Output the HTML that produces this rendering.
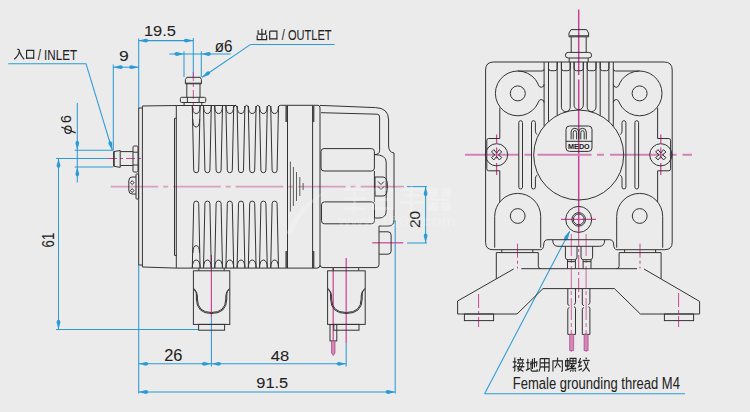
<!DOCTYPE html>
<html><head><meta charset="utf-8"><style>html,body{margin:0;padding:0;background:#ebebeb;width:750px;height:412px;overflow:hidden}
svg{display:block}
.d{fill:none;stroke:#333;stroke-width:1}
.f{fill:#505050;stroke:none}
.dt{fill:none;stroke:#3a3a3a;stroke-width:0.8}
.b{fill:none;stroke:#2a9bd6;stroke-width:1.05}
.ba{fill:#2a9bd6;stroke:none}
.m{fill:none;stroke:#cc4696;stroke-width:1.25}
.mc{fill:none;stroke:#d99fbe;stroke-width:1.9;stroke-dasharray:47.5 5 5 5}
.mr{fill:none;stroke:#d283b8;stroke-width:1.9;stroke-dasharray:54 5.5 7 6}
.mc2{fill:none;stroke:#cc3f90;stroke-width:0.95;stroke-dasharray:9 3 3 3}
.mv{fill:none;stroke:#c8409a;stroke-width:1.5;stroke-dasharray:65.4 4.6 300}
.ms{fill:none;stroke:#cc4696;stroke-width:1.25;stroke-dasharray:8.5 4.5 11 4.5 12}
.mw{fill:none;stroke:#cc3f90;stroke-width:0.8;stroke-dasharray:22 3 4 3}
.mcd{fill:none;stroke:#cc3f90;stroke-width:0.95;stroke-dasharray:14 3 3 3}
.wire{fill:#d884b8;stroke:#9a4c80;stroke-width:0.7}
.t{fill:#222;stroke:#222;stroke-width:0.05;font-family:"Liberation Sans",sans-serif}
.tp{fill:none;stroke:#262626;stroke-width:1.25}
.k{fill:none;stroke:#262626;stroke-linecap:butt;stroke-linejoin:miter}
</style></head>
<body><svg width="750" height="412" viewBox="0 0 750 412"><rect width="750" height="412" fill="#ebebeb"/><line class="b" x1="8.30" y1="63.70" x2="86.00" y2="63.70"/><line class="b" x1="86.00" y1="63.70" x2="112.20" y2="150.00"/><path class="ba" d="M112.40,150.30 L112.12,142.86 Q111.24,140.62 109.60,141.12 Q107.96,141.62 108.48,143.97 Z"/><line class="b" x1="113.30" y1="64.60" x2="113.30" y2="150.30"/><line class="b" x1="138.70" y1="38.60" x2="138.70" y2="108.00"/><line class="b" x1="113.30" y1="67.20" x2="138.70" y2="67.20"/><path class="ba" d="M113.30,67.20 L120.50,69.10 Q122.90,68.91 122.90,67.20 Q122.90,65.49 120.50,65.30 Z"/><path class="ba" d="M138.70,67.20 L131.50,65.30 Q129.10,65.49 129.10,67.20 Q129.10,68.91 131.50,69.10 Z"/><line class="b" x1="138.70" y1="40.60" x2="193.30" y2="40.60"/><path class="ba" d="M138.70,40.60 L145.90,42.50 Q148.30,42.31 148.30,40.60 Q148.30,38.89 145.90,38.70 Z"/><path class="ba" d="M193.30,40.60 L186.10,38.70 Q183.70,38.89 183.70,40.60 Q183.70,42.31 186.10,42.50 Z"/><line class="b" x1="193.30" y1="38.00" x2="193.30" y2="77.00"/><line class="b" x1="169.30" y1="54.00" x2="230.70" y2="54.00"/><path class="ba" d="M184.00,54.00 L176.80,52.10 Q174.40,52.29 174.40,54.00 Q174.40,55.71 176.80,55.90 Z"/><path class="ba" d="M201.30,54.00 L208.50,55.90 Q210.90,55.71 210.90,54.00 Q210.90,52.29 208.50,52.10 Z"/><line class="b" x1="184.00" y1="51.30" x2="184.00" y2="77.00"/><line class="b" x1="201.30" y1="51.30" x2="201.30" y2="77.00"/><line class="b" x1="250.70" y1="44.40" x2="334.70" y2="44.40"/><line class="b" x1="250.70" y1="44.40" x2="202.30" y2="77.20"/><path class="ba" d="M201.80,77.50 L208.83,75.04 Q210.71,73.53 209.75,72.12 Q208.79,70.70 206.70,71.89 Z"/><line class="b" x1="77.30" y1="103.00" x2="77.30" y2="182.60"/><path class="ba" d="M77.30,150.30 L79.20,143.10 Q79.01,140.70 77.30,140.70 Q75.59,140.70 75.40,143.10 Z"/><path class="ba" d="M77.30,166.90 L75.40,174.10 Q75.59,176.50 77.30,176.50 Q79.01,176.50 79.20,174.10 Z"/><line class="b" x1="74.60" y1="150.30" x2="113.30" y2="150.30"/><line class="b" x1="74.60" y1="166.90" x2="113.30" y2="166.90"/><line class="b" x1="58.50" y1="158.40" x2="58.50" y2="329.40"/><path class="ba" d="M58.50,158.40 L56.60,165.60 Q56.79,168.00 58.50,168.00 Q60.21,168.00 60.40,165.60 Z"/><path class="ba" d="M58.50,329.40 L60.40,322.20 Q60.21,319.80 58.50,319.80 Q56.79,319.80 56.60,322.20 Z"/><line class="b" x1="56.00" y1="158.40" x2="113.30" y2="158.40"/><line class="b" x1="56.00" y1="329.40" x2="198.00" y2="329.40"/><line class="b" x1="138.70" y1="265.00" x2="138.70" y2="393.60"/><line class="b" x1="211.40" y1="317.50" x2="211.40" y2="366.50"/><line class="b" x1="346.20" y1="343.00" x2="346.20" y2="366.50"/><line class="b" x1="138.70" y1="363.80" x2="346.20" y2="363.80"/><path class="ba" d="M138.70,363.80 L145.90,365.70 Q148.30,365.51 148.30,363.80 Q148.30,362.09 145.90,361.90 Z"/><path class="ba" d="M211.40,363.80 L204.20,361.90 Q201.80,362.09 201.80,363.80 Q201.80,365.51 204.20,365.70 Z"/><path class="ba" d="M211.40,363.80 L218.60,365.70 Q221.00,365.51 221.00,363.80 Q221.00,362.09 218.60,361.90 Z"/><path class="ba" d="M346.20,363.80 L339.00,361.90 Q336.60,362.09 336.60,363.80 Q336.60,365.51 339.00,365.70 Z"/><line class="b" x1="138.70" y1="392.00" x2="395.20" y2="392.00"/><path class="ba" d="M138.70,392.00 L145.90,393.90 Q148.30,393.71 148.30,392.00 Q148.30,390.29 145.90,390.10 Z"/><path class="ba" d="M395.20,392.00 L388.00,390.10 Q385.60,390.29 385.60,392.00 Q385.60,393.71 388.00,393.90 Z"/><line class="b" x1="395.20" y1="220.00" x2="395.20" y2="393.60"/><line class="b" x1="407.00" y1="186.60" x2="427.00" y2="186.60"/><line class="b" x1="407.00" y1="243.00" x2="427.00" y2="243.00"/><line class="b" x1="425.60" y1="186.60" x2="425.60" y2="243.00"/><path class="ba" d="M425.60,186.60 L423.70,193.80 Q423.89,196.20 425.60,196.20 Q427.31,196.20 427.50,193.80 Z"/><path class="ba" d="M425.60,243.00 L427.50,235.80 Q427.31,233.40 425.60,233.40 Q423.89,233.40 423.70,235.80 Z"/><line class="b" x1="484.60" y1="393.80" x2="685.00" y2="393.80"/><line class="b" x1="484.60" y1="393.80" x2="569.60" y2="231.60"/><path class="ba" d="M570.00,230.60 L564.52,236.76 Q563.49,239.16 565.09,239.99 Q566.68,240.83 568.06,238.62 Z"/><line class="mc" x1="110.70" y1="186.60" x2="404.00" y2="186.60"/><line class="mc2" x1="108.00" y1="158.50" x2="141.00" y2="158.50"/><line class="mc2" x1="193.30" y1="72.00" x2="193.30" y2="110.00"/><line class="m" x1="211.40" y1="255.00" x2="211.40" y2="317.50"/><line class="m" x1="346.20" y1="258.00" x2="346.20" y2="343.00"/><line class="m" x1="333.20" y1="268.00" x2="333.20" y2="340.00"/><line class="m" x1="372.20" y1="242.80" x2="403.30" y2="242.80"/><line class="mv" x1="578.70" y1="9.60" x2="578.70" y2="232.00"/><line class="mr" x1="465.00" y1="154.80" x2="692.00" y2="154.80"/><line class="ms" x1="496.60" y1="134.50" x2="496.60" y2="175.00"/><line class="ms" x1="660.80" y1="134.50" x2="660.80" y2="175.00"/><line class="m" x1="561.00" y1="219.40" x2="596.00" y2="219.40"/><line class="mcd" x1="578.70" y1="232.00" x2="578.70" y2="301.00"/><line class="mw" x1="571.30" y1="234.00" x2="571.30" y2="355.00"/><line class="mw" x1="586.10" y1="234.00" x2="586.10" y2="355.00"/><line class="mcd" x1="517.50" y1="243.70" x2="517.50" y2="268.50"/><line class="mcd" x1="640.00" y1="243.70" x2="640.00" y2="268.50"/><line class="mcd" x1="478.60" y1="294.00" x2="478.60" y2="327.00"/><line class="mcd" x1="678.60" y1="293.00" x2="678.60" y2="327.00"/><path class="d" d="M138.7,265 V108 H142.4 M142.4,106 V267"/><line class="d" x1="138.70" y1="265.00" x2="142.40" y2="265.00"/><path class="d" d="M142.4,106 L176.3,105.5 H236"/><path class="d" d="M142.4,267 L176.4,268.1 H317 Q320,268.1 320,265"/><line class="d" x1="176.30" y1="105.50" x2="176.30" y2="268.10"/><path class="d" d="M176.3,118.3 H174.5 V255.4 H176.4"/><path class="d" d="M192.30,106 L193.70,170.2 A2.5,2.5 0 0 0 198.70,170.2 L200.10,106"/><path class="d" d="M192.30,106 Q192.50,113.6 196.20,113.6 Q199.90,113.6 200.10,106"/><path class="d" d="M192.30,268 L193.70,203.6 A2.5,2.5 0 0 1 198.70,203.6 L200.10,268"/><path class="d" d="M192.30,268 Q192.50,260 196.20,260 Q199.90,260 200.10,268"/><path class="d" d="M203.50,106 L204.90,170.2 A2.5,2.5 0 0 0 209.90,170.2 L211.30,106"/><path class="d" d="M203.50,106 Q203.70,113.6 207.40,113.6 Q211.10,113.6 211.30,106"/><path class="d" d="M203.50,268 L204.90,203.6 A2.5,2.5 0 0 1 209.90,203.6 L211.30,268"/><path class="d" d="M203.50,268 Q203.70,260 207.40,260 Q211.10,260 211.30,268"/><path class="d" d="M214.70,106 L216.10,170.2 A2.5,2.5 0 0 0 221.10,170.2 L222.50,106"/><path class="d" d="M214.70,106 Q214.90,113.6 218.60,113.6 Q222.30,113.6 222.50,106"/><path class="d" d="M214.70,268 L216.10,203.6 A2.5,2.5 0 0 1 221.10,203.6 L222.50,268"/><path class="d" d="M214.70,268 Q214.90,260 218.60,260 Q222.30,260 222.50,268"/><path class="d" d="M225.90,106 L227.30,170.2 A2.5,2.5 0 0 0 232.30,170.2 L233.70,106"/><path class="d" d="M225.90,106 Q226.10,113.6 229.80,113.6 Q233.50,113.6 233.70,106"/><path class="d" d="M225.90,268 L227.30,203.6 A2.5,2.5 0 0 1 232.30,203.6 L233.70,268"/><path class="d" d="M225.90,268 Q226.10,260 229.80,260 Q233.50,260 233.70,268"/><path class="d" d="M237.10,106 L238.50,170.2 A2.5,2.5 0 0 0 243.50,170.2 L244.90,106"/><path class="d" d="M237.10,106 Q237.30,113.6 241.00,113.6 Q244.70,113.6 244.90,106"/><path class="d" d="M237.10,268 L238.50,203.6 A2.5,2.5 0 0 1 243.50,203.6 L244.90,268"/><path class="d" d="M237.10,268 Q237.30,260 241.00,260 Q244.70,260 244.90,268"/><path class="d" d="M248.30,106 L249.70,170.2 A2.5,2.5 0 0 0 254.70,170.2 L256.10,106"/><path class="d" d="M248.30,106 Q248.50,113.6 252.20,113.6 Q255.90,113.6 256.10,106"/><path class="d" d="M248.30,268 L249.70,203.6 A2.5,2.5 0 0 1 254.70,203.6 L256.10,268"/><path class="d" d="M248.30,268 Q248.50,260 252.20,260 Q255.90,260 256.10,268"/><path class="d" d="M259.50,106 L260.90,170.2 A2.5,2.5 0 0 0 265.90,170.2 L267.30,106"/><path class="d" d="M259.50,106 Q259.70,113.6 263.40,113.6 Q267.10,113.6 267.30,106"/><path class="d" d="M259.50,268 L260.90,203.6 A2.5,2.5 0 0 1 265.90,203.6 L267.30,268"/><path class="d" d="M259.50,268 Q259.70,260 263.40,260 Q267.10,260 267.30,268"/><path class="d" d="M270.70,106 L272.10,170.2 A2.5,2.5 0 0 0 277.10,170.2 L278.50,106"/><path class="d" d="M270.70,106 Q270.90,113.6 274.60,113.6 Q278.30,113.6 278.50,106"/><path class="d" d="M270.70,268 L272.10,203.6 A2.5,2.5 0 0 1 277.10,203.6 L278.50,268"/><path class="d" d="M270.70,268 Q270.90,260 274.60,260 Q278.30,260 278.50,268"/><path class="d" d="M233.70,107 Q235.40,103.6 237.10,107"/><path class="d" d="M244.90,107 Q246.60,103.6 248.30,107"/><path class="d" d="M256.10,107 Q257.80,103.6 259.50,107"/><path class="d" d="M267.30,107 Q269.00,103.6 270.70,107"/><path class="d" d="M278.50,107 Q278.80,105.3 280.50,105.3 H318 Q320,105.3 320,108"/><path class="d" d="M192.70,119 Q192.80,127 196.20,127 Q199.60,127 199.70,119"/><path class="d" d="M192.90,253 Q193.00,245.6 196.20,245.6 Q199.40,245.6 199.50,253"/><rect class="f" x="285.4" y="106" width="2.1" height="16"/><rect class="f" x="285.4" y="251" width="2.1" height="17"/><rect class="f" x="312.6" y="106" width="1.8" height="16"/><rect class="f" x="312.6" y="251" width="1.8" height="17"/><line class="d" x1="287.50" y1="105.50" x2="287.50" y2="268.10"/><line class="d" x1="312.60" y1="105.50" x2="312.60" y2="268.10"/><line class="dt" x1="290.40" y1="161.50" x2="290.40" y2="211.50"/><line class="dt" x1="293.40" y1="167.00" x2="293.40" y2="206.00"/><line class="dt" x1="296.50" y1="172.00" x2="296.50" y2="201.00"/><line class="dt" x1="299.80" y1="177.00" x2="299.80" y2="196.00"/><line class="dt" x1="303.10" y1="183.00" x2="303.10" y2="190.00"/><path class="d" d="M320,108 V264.6 Q320,267.6 323,267.6 H376 Q379,267.6 379,264.6 V226"/><path class="d" d="M320,105.4 L375.5,107.6 Q388.6,108 388.6,120 V146 Q388.8,152.4 394,153 V220 Q394,226 388.3,226 H379"/><path class="d" d="M321,112.7 L377.3,114.2 Q379.6,114.3 379.6,117 V150.5 Q379.6,154.4 374.6,154.6"/><rect class="d" x="321.00" y="148.60" width="53.40" height="22.40" rx="3"/><rect class="d" x="321.50" y="201.90" width="53.00" height="21.90" rx="3"/><line class="d" x1="374.40" y1="171.00" x2="374.40" y2="202.00"/><path class="d" d="M374.6,154.6 Q386.2,154.8 386.2,162 V211 Q386.2,218 379,218 H374.5"/><path class="d" d="M375,177 H383 Q387.5,177 387.5,186.5 Q387.5,196 383,196 H375 Z"/><path class="d" d="M378,181.5 L381,184.5 L384,181.5 M378,186.5 L381,189.5 L384,186.5"/><path class="d" d="M379.1,231.8 H388 Q391.1,231.8 391.1,235 V251 Q391.1,254.2 388,254.2 H379.1"/><path class="d" d="M113.6,151.6 L120.2,150.5 V167.4 L113.6,166.2 Z"/><line class="d" x1="114.20" y1="151.80" x2="114.20" y2="166.00"/><path class="d" d="M120.2,151.6 H133 M120.2,165.5 H133"/><rect class="d" x="133.00" y="146.00" width="5.00" height="26.00" rx="1.2"/><line class="d" x1="133.00" y1="152.20" x2="138.00" y2="152.20"/><line class="d" x1="133.00" y1="165.00" x2="138.00" y2="165.00"/><path class="d" d="M136,177 H132 Q128.8,177 128.8,181 V190 Q128.8,194 132,194 H136"/><rect class="d" x="136.00" y="174.00" width="2.60" height="25.00" rx="0.6"/><path class="d" d="M132.2,180.6 L134,182.6 L132.2,184.6 L130.4,182.6 Z M132.2,188.6 L134,190.6 L132.2,192.6 L130.4,190.6 Z"/><path class="d" d="M186.8,77.3 H200.2 L201.4,79.6 V83.8 H185.4 V79.6 Z"/><line class="d" x1="185.40" y1="83.20" x2="201.40" y2="83.20"/><path class="d" d="M186.8,83.8 V97.3 M200,83.8 V97.3"/><rect class="d" x="180.40" y="97.30" width="25.30" height="5.20" rx="1.2"/><line class="d" x1="187.40" y1="97.30" x2="187.40" y2="102.50"/><line class="d" x1="199.10" y1="97.30" x2="199.10" y2="102.50"/><path class="d" d="M184.1,102.5 V105.5 M201.8,102.5 V105.5"/><path class="d" d="M198.8,268.1 V270.8 M224.2,268.1 V270.8"/><rect class="d" x="193.4" y="270.8" width="36.40" height="53.60"/><rect class="d" x="198.6" y="324.4" width="26.00" height="5.8"/><path class="d" d="M193.70,288.50 Q196.40,290.00 196.40,296.00 V299 Q196.60,313.50 211.40,313.50 Q226.60,313.50 226.80,299 V296 Q226.80,290.00 229.50,288.50"/><path class="d" d="M193.70,289.50 Q197.40,291.00 197.40,296.00 V299 Q197.60,312.50 211.40,312.50 Q225.60,312.50 225.80,299 V296 Q225.80,291.00 229.50,289.50"/><path class="d" d="M333.2,268.1 V270.8 M358.7,268.1 V270.8"/><rect class="d" x="327.6" y="270.8" width="37.60" height="53.60"/><rect class="d" x="333.8" y="324.4" width="25.20" height="5.8"/><path class="d" d="M327.90,288.50 Q330.60,290.00 330.60,296.00 V299 Q330.80,313.50 346.30,313.50 Q362.00,313.50 362.20,299 V296 Q362.20,290.00 364.90,288.50"/><path class="d" d="M327.90,289.50 Q331.60,291.00 331.60,296.00 V299 Q331.80,312.50 346.30,312.50 Q361.00,312.50 361.20,299 V296 Q361.20,291.00 364.90,289.50"/><rect class="d" x="330" y="324.6" width="6.8" height="16.3"/><path class="wire" d="M331.5,341 H335 V353 L333.25,355.6 L331.5,353 Z"/><path class="d" d="M571,29.6 H586.6 L588.6,33 V36.8 H569 V33 Z"/><line class="d" x1="569.40" y1="35.80" x2="588.20" y2="35.80"/><path class="d" d="M571.2,36.8 V52.4 M586.2,36.8 V52.4"/><rect class="d" x="565.40" y="52.40" width="26.20" height="5.60" rx="2.8"/><path class="d" d="M569.2,58 V62 M588.2,58 V62"/><path class="d" d="M540.5,249.7 H493 Q485.6,249.7 485.6,242.3 V70 Q485.6,62 493.6,62 H664.2 Q672.2,62 672.2,70 V242.3 Q672.2,249.7 664.8,249.7 H617"/><path class="d" d="M540.5,249.7 Q543.6,249.7 543.8,244 Q544,239.7 548,239.7 H609.4 Q613.4,239.7 613.6,244 Q613.8,249.7 617,249.7"/><path class="d" d="M538.10,102.87 A22.4,22.4 0 1 1 538.10,83.93"/><path class="d" d="M619.30,83.93 A22.4,22.4 0 1 1 619.30,102.87"/><circle class="d" cx="517.80" cy="93.40" r="7.50"/><circle class="d" cx="639.60" cy="93.40" r="7.50"/><path class="d" d="M537.80,83.9 Q539.20,87.4 541.10,87.3 Q544.00,87.2 544.10,84.3"/><path class="d" d="M537.80,102.9 Q539.20,99.4 541.10,99.5 Q544.00,99.6 544.10,102.5"/><path class="d" d="M619.60,83.9 Q618.20,87.4 616.30,87.3 Q613.40,87.2 613.30,84.3"/><path class="d" d="M619.60,102.9 Q618.20,99.4 616.30,99.5 Q613.40,99.6 613.30,102.5"/><circle class="d" cx="578.70" cy="155.00" r="45.00"/><path class="d" d="M544.10,62 V126.23"/><path class="d" d="M548.50,62 V121.64"/><path class="d" d="M557.20,62 V115.47"/><path class="d" d="M600.20,62 V115.47"/><path class="d" d="M608.90,62 V121.64"/><path class="d" d="M613.30,62 V126.23"/><path class="d" d="M561.40,62 V107.19 A4.40,4.40 0 0 0 570.20,107.19 V62"/><path class="d" d="M574.10,62 V105.10 A4.60,4.60 0 0 0 583.30,105.10 V62"/><path class="d" d="M587.20,62 V107.19 A4.40,4.40 0 0 0 596.00,107.19 V62"/><path class="d" d="M548.50,62 V68.4 Q548.50,70.7 550.80,70.7 H554.90 Q557.20,70.7 557.20,68.4 V62"/><path class="d" d="M561.40,62 V68.4 Q561.40,70.7 563.70,70.7 H567.90 Q570.20,70.7 570.20,68.4 V62"/><path class="d" d="M574.10,62 V68.4 Q574.10,70.7 576.40,70.7 H581.00 Q583.30,70.7 583.30,68.4 V62"/><path class="d" d="M587.20,62 V68.4 Q587.20,70.7 589.50,70.7 H593.70 Q596.00,70.7 596.00,68.4 V62"/><path class="d" d="M600.20,62 V68.4 Q600.20,70.7 602.50,70.7 H606.60 Q608.90,70.7 608.90,68.4 V62"/><path class="d" d="M517.80,71.00 H541.9 Q544.1,71.00 544.1,69.00"/><path class="d" d="M639.60,71.00 H615.50 Q613.30,71.00 613.30,69.00"/><rect class="d" x="518.80" y="120.70" width="3.70" height="68.30" rx="1.8500000000000227"/><rect class="d" x="634.90" y="120.70" width="3.70" height="68.30" rx="1.8500000000000227"/><path class="d" d="M535.40,131.4 V122.65 A1.95,1.95 0 0 0 531.50,122.65 V187.05 A1.95,1.95 0 0 0 535.40,187.05 V178.3"/><path class="d" d="M535.40,131.4 Q535.50,133.8 537.30,134.6 M535.40,178.3 Q535.50,175.9 537.30,175.1"/><path class="d" d="M622.00,131.4 V122.65 A1.95,1.95 0 0 1 625.90,122.65 V187.05 A1.95,1.95 0 0 1 622.00,187.05 V178.3"/><path class="d" d="M622.00,131.4 Q621.90,133.8 620.10,134.6 M622.00,178.3 Q621.90,175.9 620.10,175.1"/><path class="d" d="M499.80,107.6 V138.5 H488.60 Q486.80,138.5 486.80,140.5 V168.8 Q486.80,170.8 488.60,170.8 H499.80 V202"/><path class="d" d="M657.60,107.6 V138.5 H668.80 Q670.60,138.5 670.60,140.5 V168.8 Q670.60,170.8 668.80,170.8 H657.60 V202"/><circle class="d" cx="496.60" cy="154.80" r="11.10"/><path class="d" d="M498.30,154.80 L501.76,157.56 L499.36,159.96 L496.60,156.50 L493.84,159.96 L491.44,157.56 L494.90,154.80 L491.44,152.04 L493.84,149.64 L496.60,153.10 L499.36,149.64 L501.76,152.04 Z"/><circle class="d" cx="660.80" cy="154.80" r="11.10"/><path class="d" d="M662.50,154.80 L665.96,157.56 L663.56,159.96 L660.80,156.50 L658.04,159.96 L655.64,157.56 L659.10,154.80 L655.64,152.04 L658.04,149.64 L660.80,153.10 L663.56,149.64 L665.96,152.04 Z"/><rect class="d" x="566.00" y="126.00" width="26.00" height="25.40" rx="3.5"/><line class="d" x1="566.00" y1="141.30" x2="592.00" y2="141.30"/><path class="d" d="M571.10,139.4 V132 Q571.10,128.3 574.90,128.3 Q578.70,128.3 578.70,132 V139.4"/><path class="d" d="M573.20,139.4 V132.6 Q573.20,130.6 574.90,130.6 Q576.60,130.6 576.60,132.6 V139.4"/><path class="d" d="M578.70,139.4 V132 Q578.70,128.3 582.50,128.3 Q586.30,128.3 586.30,132 V139.4"/><path class="d" d="M580.80,139.4 V132.6 Q580.80,130.6 582.50,130.6 Q584.20,130.6 584.20,132.6 V139.4"/><text x="578.9" y="148.8" font-size="6.6" font-weight="bold" text-anchor="middle" class="t" textLength="21.6" lengthAdjust="spacingAndGlyphs">MEDO</text><path class="d" d="M494.70,247.7 V216.4 A23,23 0 0 1 540.70,216.4 V247.7"/><circle class="d" cx="517.70" cy="216.00" r="7.40"/><path class="d" d="M616.70,247.7 V216.4 A23,23 0 0 1 662.70,216.4 V247.7"/><circle class="d" cx="639.70" cy="216.00" r="7.40"/><circle class="d" cx="578.70" cy="219.40" r="13.00"/><circle class="d" cx="578.70" cy="219.40" r="6.80"/><circle class="d" cx="578.70" cy="219.40" r="5.40"/><path class="d" d="M552.7,239.9 Q552.7,246.3 558,246.3 H599.4 Q604.7,246.3 604.7,239.9"/><path class="d" d="M565.4,246.3 V257.2 Q565.4,259.7 567.9,259.7 H574.5 Q577,259.7 577,257.2 V246.3 M567.5,259.7 V268.7 M575.4,259.7 V268.7 M567.5,261.6 H575.4"/><path class="d" d="M581,246.3 V257.2 Q581,259.7 583.5,259.7 H590.1 Q592.6,259.7 592.6,257.2 V246.3 M583.1,259.7 V268.7 M591.0,259.7 V268.7 M583.1,261.6 H591.0"/><line class="d" x1="501.80" y1="249.70" x2="501.80" y2="252.60"/><line class="d" x1="532.80" y1="249.70" x2="532.80" y2="252.60"/><path class="d" d="M496.3,278.9 V252.6 H538.3 V266.2 Q538.3,268.7 540.8,268.7"/><line class="d" x1="624.60" y1="249.70" x2="624.60" y2="252.60"/><line class="d" x1="655.60" y1="249.70" x2="655.60" y2="252.60"/><path class="d" d="M616.6,268.7 Q619.1,268.7 619.1,266.2 V252.6 H661.1 V278.9"/><line class="d" x1="521.30" y1="268.70" x2="637.00" y2="268.70"/><path class="d" d="M513.6,269 L457.6,301 V314 H517 L543,288.6 H614.4 L640.4,314 H699.6 V301.4 L644,269"/><rect class="d" x="464.40" y="314.00" width="29.20" height="6.60" rx="0"/><rect class="d" x="664.40" y="314.00" width="29.20" height="6.60" rx="0"/><path class="d" d="M567.8,288.6 V304 Q567.8,305.2 569.4,305.6 M575.5,288.6 V302.6 Q575.5,304 573.9,304.6 M567.8,334.4 V309.2 Q567.8,308 569.4,307.6 M575.5,334.4 V308.4 Q575.5,307 573.9,306.8"/><line class="d" x1="567.80" y1="334.40" x2="575.50" y2="334.40"/><path class="wire" d="M569.65,334.4 V350.5 H573.65 V334.4 Z"/><path class="d" d="M582.3,288.6 V304 Q582.3,305.2 583.9,305.6 M589.9,288.6 V302.6 Q589.9,304 588.3,304.6 M582.3,334.4 V309.2 Q582.3,308 583.9,307.6 M589.9,334.4 V308.4 Q589.9,307 588.3,306.8"/><line class="d" x1="582.30" y1="334.40" x2="589.90" y2="334.40"/><path class="wire" d="M584.10,334.4 V350.5 H588.10 V334.4 Z"/><text class="t" x="143.90" y="36.31" font-size="14.69" textLength="32.05" lengthAdjust="spacingAndGlyphs">19.5</text><text class="t" x="119.03" y="60.61" font-size="14.55" textLength="9.75" lengthAdjust="spacingAndGlyphs">9</text><text class="t" x="214.82" y="51.52" font-size="16.00" textLength="17.69" lengthAdjust="spacingAndGlyphs">ø6</text><text class="t" x="164.23" y="360.60" font-size="15.68" textLength="18.25" lengthAdjust="spacingAndGlyphs">26</text><text class="t" x="270.77" y="360.51" font-size="14.41" textLength="18.40" lengthAdjust="spacingAndGlyphs">48</text><text class="t" x="256.38" y="388.31" font-size="14.55" textLength="31.85" lengthAdjust="spacingAndGlyphs">91.5</text><text class="t" x="37.65" y="60.04" font-size="14.20" textLength="39.37" lengthAdjust="spacingAndGlyphs">/ INLET</text><text class="t" x="281.75" y="40.33" font-size="14.60" textLength="49.85" lengthAdjust="spacingAndGlyphs">/ OUTLET</text><text class="t" x="512.78" y="388.79" font-size="16.20" textLength="167.15" lengthAdjust="spacingAndGlyphs">Female grounding thread M4</text><text class="t" transform="rotate(-90)" x="-247.42" y="54.19" font-size="15.96" textLength="14.61" lengthAdjust="spacingAndGlyphs">61</text><text class="t" transform="rotate(-90)" x="-228.13" y="420.20" font-size="14.97" textLength="17.29" lengthAdjust="spacingAndGlyphs">20</text><text class="t" transform="rotate(-90)" x="-123.07" y="71.20" font-size="15.11" textLength="7.83" lengthAdjust="spacingAndGlyphs">6</text><path class="tp" d="M61.3,127 L75.7,132.9"/><ellipse class="tp" cx="68.1" cy="129.75" rx="3.2" ry="3.6"/><g transform="translate(13.7,48.3) scale(1.0,1.0)" class="k" style="stroke-width:1.200"><path d="M3.5,1 Q5,0.8 5.8,2 Q5.5,7 0.5,11"/><path d="M5.8,3.5 Q7.5,8 10.5,11"/></g><g transform="translate(25.9,49.4) scale(0.85,0.95)" class="k" style="stroke-width:1.333"><path d="M0.8,1 V10.2 M0.8,1 H9.2 V10.2 M0.8,9.3 H9.2"/></g><g transform="translate(256.9,28.7) scale(1.0,1.03)" class="k" style="stroke-width:1.182"><path d="M5,0 V10.8"/><path d="M1.2,1.5 V5.3 H8.8 V1.5"/><path d="M0.3,6.3 V10.6 H9.7 V6.3"/></g><g transform="translate(269.0,30.2) scale(0.86,0.94)" class="k" style="stroke-width:1.333"><path d="M0.8,1 V10.2 M0.8,1 H9.2 V10.2 M0.8,9.3 H9.2"/></g><g transform="translate(512.8,357.6) scale(1.0,1.2)" class="k" style="stroke-width:1.091"><path d="M0,3.6 H3.6"/><path d="M2,0 V10.6 Q2,11.2 1.2,10.8"/><path d="M0,8.4 L3.8,6.6"/><path d="M7.6,0 V1.4"/><path d="M4.4,1.8 H11"/><path d="M5.6,2.4 L6.2,4.2"/><path d="M9.8,2.4 L9.2,4.2"/><path d="M4.2,4.6 H11.4"/><path d="M4,7.6 H11.6"/><path d="M7.2,5.2 Q6.4,8.5 5.2,9.4 Q8.5,10 10.6,11.6"/><path d="M9.8,5.6 Q8.5,10 4.8,11.6"/></g><g transform="translate(525.8499999999999,357.6) scale(1.0,1.2)" class="k" style="stroke-width:1.091"><path d="M0.4,4.2 H3.6"/><path d="M2,1 V9.6"/><path d="M0,10.6 L4,9"/><path d="M4.2,5.4 L11,3.6 Q11,7 10.2,7.4"/><path d="M6.6,1 V9.6"/><path d="M8.6,0.4 V8.2"/><path d="M5.2,2.8 V10.4 Q5.2,11.2 6.4,11.2 H11.4 V9.8"/></g><g transform="translate(538.9,357.6) scale(1.0,1.2)" class="k" style="stroke-width:1.091"><path d="M1.2,0.8 V7.5 Q1.2,10 0,11.6"/><path d="M1.2,0.8 H10.2 V10.8 Q10.2,11.6 9,11.2"/><path d="M1.2,4.4 H10.2"/><path d="M1.2,7.8 H10.2"/><path d="M5.7,0.8 V11.6"/></g><g transform="translate(551.9499999999999,357.6) scale(1.0,1.2)" class="k" style="stroke-width:1.091"><path d="M5.6,0 V3.2"/><path d="M1,11.6 V2.8 H10.4 V10.8 Q10.4,11.6 9.2,11.2"/><path d="M5.6,3.2 Q5.2,6.5 2.8,8.6"/><path d="M6,5 L8.6,8.2"/></g><g transform="translate(565.0,357.6) scale(1.0,1.2)" class="k" style="stroke-width:1.091"><path d="M0.6,2.6 H4 V7 H0.6 Z"/><path d="M2.3,0.4 V10"/><path d="M0,10.6 L4.4,9.6"/><path d="M3.8,8.6 L4.6,9.6"/><path d="M5,0.6 H11 V5 H5 Z"/><path d="M8,0.6 V5"/><path d="M5,2.8 H11"/><path d="M7.4,5.4 L6,7.2 H9.4"/><path d="M9.6,6.4 L5.6,9 H10.4"/><path d="M10,8.4 L11,9.6"/><path d="M8,9 V11.8"/><path d="M6.4,10 L5.2,11.6"/><path d="M9.6,10 L11,11.6"/></g><g transform="translate(578.05,357.6) scale(1.0,1.2)" class="k" style="stroke-width:1.091"><path d="M2.6,0.4 L0.6,4 H3.2"/><path d="M3.2,2.8 L0.6,7.6 L4,6.6"/><path d="M0.6,10.6 L4,9.2"/><path d="M7.8,0 L8.4,1.4"/><path d="M4.6,2.4 H11.6"/><path d="M6.2,3.2 Q8,8.5 11.6,11.6"/><path d="M10,3.4 Q8.5,9 4.4,11.6"/></g><g opacity="0.22" fill="#fff" stroke="none"><path d="M286,234 Q296,204 334,187 Q302,206 292,234 Z"/><text x="338" y="226" font-size="14" font-family="Liberation Sans" textLength="118" lengthAdjust="spacingAndGlyphs">www.1688.com</text><path d="M344,188 h22 v3 h-22z M344,197 h22 v3 h-22z M353,186 h3 v26 h-3z M344,207 h22 v3 h-22z M372,188 h22 v3 h-22z M372,188 h3 v22 h-3z M391,188 h3 v22 h-3z M372,198 h22 v3 h-22z M372,207 h22 v3 h-22z M400,188 h24 v3 h-24z M404,194 h16 v3 h-16z M400,201 h24 v3 h-24z M410,186 h3 v26 h-3z M428,188 h10 v9 h-10z M441,188 h10 v9 h-10z M428,202 h10 v9 h-10z M441,202 h10 v9 h-10z M430,198 h20 v3 h-20z"/></g></svg></body></html>
